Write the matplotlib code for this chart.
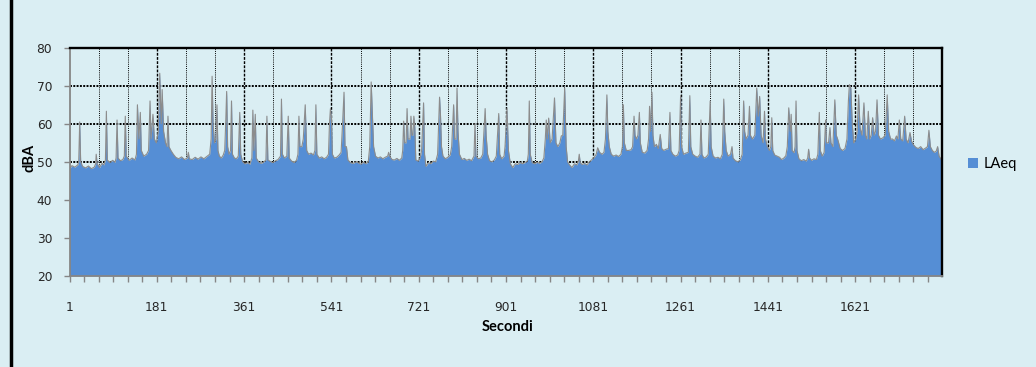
import matplotlib
matplotlib.use("Agg")
import matplotlib.pyplot as plt
from matplotlib.lines import Line2D
from matplotlib.patches import Patch

secondi = [
    1, 6, 12, 18, 20, 22, 24, 28, 34, 40,
    46, 52, 55, 56, 58, 63, 68, 72, 75, 77,
    79, 84, 90, 95, 97, 99, 101, 106, 111, 114,
    116, 118, 124, 130, 136, 139, 141, 144, 147, 149,
    154, 160, 164, 167, 169, 173, 176, 180, 184, 187,
    190, 192, 195, 199, 202, 204, 206, 210, 215, 220,
    226, 232, 238, 244, 246, 248, 254, 260, 266, 272,
    278, 284, 290, 293, 295, 297, 300, 303, 305, 307,
    310, 314, 318, 321, 323, 325, 327, 330, 333, 335,
    337, 341, 345, 349, 352, 354, 358, 363, 368, 373,
    377, 379, 381, 384, 386, 391, 396, 401, 406, 408,
    410, 415, 420, 426, 431, 436, 438, 440, 444, 449,
    452, 454, 459, 464, 469, 472, 474, 476, 480, 483,
    487, 490, 494, 499, 504, 507, 509, 511, 516, 521,
    526, 531, 535, 537, 539, 541, 543, 547, 552, 557,
    561, 564, 567, 569, 572, 575, 580, 586, 592, 597,
    602, 607, 612, 617, 620, 623, 625, 628, 632, 637,
    642, 647, 652, 657, 659, 661, 666, 671, 676, 681,
    686, 688, 690, 692, 695, 697, 699, 703, 705, 707,
    709, 711, 713, 715, 720, 724, 727, 731, 733, 736,
    741, 746, 751, 756, 760, 764, 766, 768, 771, 776,
    781, 786, 789, 793, 795, 798, 800, 802, 805, 810,
    815, 820, 825, 830, 835, 837, 839, 844, 849, 853,
    858, 860, 863, 867, 872, 877, 881, 886, 888, 892,
    897, 899, 903, 906, 910, 915, 920, 925, 930, 935,
    940, 945, 947, 949, 951, 955, 960, 965, 970, 975,
    979, 982, 984, 986, 989, 992, 996, 1001, 1004, 1008,
    1012, 1015, 1018, 1022, 1025, 1028, 1032, 1037, 1042, 1047,
    1050, 1052, 1054, 1058, 1063, 1068, 1073, 1078, 1083, 1087,
    1090, 1094, 1099, 1103, 1106, 1109, 1111, 1114, 1118, 1123,
    1128, 1133, 1138, 1141, 1143, 1145, 1149, 1154, 1159, 1162,
    1165, 1167, 1170, 1173, 1176, 1178, 1182, 1187, 1192, 1195,
    1197, 1199, 1202, 1204, 1207, 1211, 1215, 1219, 1222, 1226,
    1231, 1236, 1239, 1241, 1245, 1250, 1255, 1258, 1261, 1263,
    1267, 1272, 1277, 1280, 1282, 1286, 1291, 1296, 1301, 1303,
    1305, 1309, 1314, 1318, 1322, 1324, 1328, 1333, 1338, 1343,
    1347, 1350, 1352, 1355, 1359, 1364, 1367, 1369, 1374, 1379,
    1384, 1388, 1391, 1393, 1396, 1400, 1403, 1405, 1409, 1414,
    1418, 1421, 1424, 1427, 1431, 1434, 1436, 1440, 1444, 1447,
    1449, 1451, 1455, 1460, 1465, 1469, 1474, 1478, 1481, 1484,
    1487, 1489, 1491, 1495, 1497, 1499, 1501, 1505, 1510, 1515,
    1520, 1523, 1525, 1527, 1531, 1536, 1541, 1544, 1547, 1549,
    1553, 1557, 1560, 1562, 1566, 1569, 1571, 1575, 1579, 1582,
    1585, 1590, 1595, 1600, 1604, 1607, 1609, 1612, 1615, 1618,
    1622, 1625, 1628, 1631, 1635, 1639, 1642, 1645, 1648, 1651,
    1654, 1657, 1660, 1663, 1666, 1669, 1673, 1678, 1683, 1687,
    1690, 1694, 1698, 1702, 1706, 1709, 1712, 1715, 1719, 1723,
    1726, 1730, 1734, 1737, 1741, 1746, 1751, 1756, 1761, 1766,
    1770, 1773, 1776, 1780, 1784, 1788, 1791, 1794, 1799,
]
laeq = [
    48.2, 49.0, 48.6, 49.2, 50.0, 60.5, 50.0, 48.8, 48.4, 48.9,
    48.2, 48.6, 49.5, 52.0, 49.5, 48.5, 49.6, 49.2, 50.5, 63.3,
    50.5, 49.8, 50.4, 49.9, 51.0, 61.0, 51.0, 50.3, 50.6, 51.5,
    62.0, 51.5, 50.4, 51.0, 50.5, 52.0, 65.0, 56.0, 63.0, 53.0,
    51.5, 52.0, 53.0, 66.0, 56.0, 62.5, 56.0, 55.0, 58.0, 73.3,
    60.0, 69.0, 58.0, 55.0, 54.0, 62.0, 54.0, 53.0, 52.0, 51.2,
    50.8, 51.3, 50.6, 51.0, 52.5, 50.8, 50.6, 51.2, 50.7, 51.3,
    50.8, 51.4, 52.0, 56.0, 72.5, 60.0, 55.0, 56.0, 65.0, 53.0,
    51.5, 51.0, 51.8, 53.0, 60.0, 68.5, 54.0, 52.0, 53.0, 66.0,
    52.0, 51.0, 50.8, 51.5, 63.0, 52.0, 50.0, 49.5, 49.8, 49.4,
    51.0, 63.6, 53.0, 62.5, 51.0, 50.0, 49.6, 49.9, 50.5, 62.0,
    50.5, 50.1, 49.8, 50.3, 50.6, 51.5, 66.5, 52.0, 51.0, 51.5,
    62.0, 51.0, 50.2, 49.8, 50.4, 52.0, 62.0, 54.0, 54.0, 56.0,
    65.0, 53.0, 52.0, 52.3, 51.8, 53.0, 65.0, 52.0, 51.0, 51.3,
    50.8, 51.2, 52.0, 60.0, 64.0, 62.0, 52.0, 51.0, 51.2, 51.8,
    52.5, 60.0, 68.3, 54.0, 54.0, 50.5, 49.8, 49.6, 50.0, 49.7,
    49.4, 49.9, 49.5, 50.0, 54.0, 71.0, 64.0, 54.0, 51.5, 51.0,
    51.3, 50.8, 51.2, 51.5, 52.5, 51.5, 50.6, 50.5, 50.9, 50.4,
    51.0, 53.0, 60.7, 55.0, 55.0, 64.0, 56.0, 56.0, 62.0, 57.0,
    57.0, 62.0, 59.0, 50.5, 50.2, 51.0, 53.0, 65.5, 52.0, 48.8,
    49.8, 49.5, 50.2, 50.0, 52.0, 67.0, 62.0, 54.0, 51.5, 50.8,
    51.2, 51.8, 54.0, 65.0, 56.0, 56.0, 69.4, 58.0, 52.0, 50.6,
    50.9, 50.4, 50.7, 50.3, 51.5, 60.0, 51.5, 50.8, 51.0, 52.0,
    64.0, 57.0, 52.0, 50.3, 50.0, 50.5, 51.5, 62.7, 52.0, 50.8,
    51.5, 54.0, 64.0, 53.0, 49.5, 48.5, 49.5, 49.3, 49.8, 49.5,
    49.8, 50.2, 52.0, 66.0, 52.0, 49.8, 49.5, 49.9, 49.6, 50.0,
    51.0, 56.0, 61.0, 56.0, 61.5, 55.0, 56.0, 66.8, 55.0, 54.0,
    55.0, 56.8, 57.0, 69.4, 54.0, 50.0, 49.2, 48.5, 49.5, 49.2,
    50.0, 52.0, 49.8, 49.3, 49.6, 49.2, 50.0, 50.6, 51.2, 52.0,
    53.7, 52.5, 52.0, 52.5, 56.0, 67.6, 58.0, 54.0, 52.0, 51.5,
    51.8, 51.4, 52.0, 54.0, 65.0, 55.0, 53.0, 53.0, 53.2, 54.0,
    62.0, 57.0, 56.0, 57.0, 63.0, 55.0, 52.5, 52.3, 53.0, 56.0,
    64.6, 58.0, 68.3, 57.0, 54.0, 54.6, 53.5, 57.2, 53.5, 53.0,
    53.3, 53.5, 63.0, 53.0, 52.0, 51.5, 51.8, 53.0, 67.4, 54.0,
    52.0, 52.3, 52.5, 67.4, 54.0, 52.0, 51.5, 51.2, 52.0, 61.0,
    52.0, 51.0, 51.3, 52.0, 66.0, 54.0, 51.5, 51.0, 51.2, 50.8,
    52.0, 66.5, 58.0, 53.0, 51.5, 52.0, 54.0, 51.0, 50.3, 50.0,
    50.5, 52.0, 66.0, 58.0, 56.0, 57.0, 64.6, 57.0, 56.0, 57.0,
    69.4, 62.0, 67.2, 57.0, 55.0, 63.3, 56.0, 54.0, 53.0, 54.0,
    61.6, 53.0, 51.8, 51.5, 51.2, 50.6, 51.0, 51.6, 54.0, 64.2,
    58.0, 62.5, 53.0, 52.4, 54.0, 66.0, 53.0, 50.8, 50.3, 50.6,
    50.2, 51.0, 53.3, 51.0, 50.4, 50.8, 50.6, 52.0, 63.0, 53.0,
    51.5, 52.5, 61.0, 55.0, 55.0, 59.0, 55.0, 54.0, 66.3, 57.0,
    55.9, 53.5, 53.0, 53.5, 56.0, 66.0, 70.3, 69.4, 60.0, 55.0,
    56.0, 58.0, 67.6, 59.0, 57.0, 65.5, 57.0, 56.0, 63.3, 56.0,
    57.0, 61.6, 57.0, 58.0, 66.3, 57.0, 56.0, 56.3, 57.0, 67.6,
    58.0, 56.0, 56.0, 55.5, 56.8, 56.0, 61.0, 56.0, 55.5, 62.0,
    56.0, 55.0, 57.7, 55.5, 54.5, 53.8, 53.5, 54.0, 53.2, 53.6,
    54.0, 58.3, 54.0, 53.0, 52.5, 52.8, 54.0, 51.5, 50.5,
]
assert len(secondi) == len(laeq)

etichette_x = [1, 181, 361, 541, 721, 901, 1081, 1261, 1441, 1621]
griglia_princ = [181, 361, 541, 721, 901, 1081, 1261, 1441, 1621]
griglia_sec = [61, 121, 241, 301, 421, 601, 661, 781, 841, 961, 1021,
               1141, 1201, 1321, 1381, 1561, 1681, 1741]
valori_y = [20, 30, 40, 50, 60, 70, 80]

SFONDO = "#DAEEF3"
BLU = "#558ED5"
GRIGIO = "#868686"

fig = plt.figure(figsize=(10.36, 3.67), dpi=100, facecolor=SFONDO)
ax = fig.add_axes([0.0671, 0.248, 0.8417, 0.622])
ax.set_facecolor(SFONDO)

ax.fill_between(secondi, laeq, 20, color=BLU, lw=0, zorder=2)
ax.plot(secondi, laeq, color="#8C8C8C", lw=0.8, zorder=3)

for x in griglia_princ:
    ax.axvline(x, color="black", lw=1.0, ls=(0, (2, 1)), zorder=1)
for x in griglia_sec:
    ax.axvline(x, color="black", lw=0.7, ls=(0, (1, 1.2)), zorder=1)
for y in [50, 60, 70]:
    ax.axhline(y, color="black", lw=1.4, ls=(0, (1, 0.7)), zorder=1)

ax.set_xlim(1, 1799)
ax.set_ylim(20, 80)
ax.set_xticks(etichette_x)
ax.set_xticks(range(1, 1799, 30), minor=True)
ax.set_yticks(valori_y)

for lato in ["left", "bottom"]:
    ax.spines[lato].set_color(GRIGIO)
    ax.spines[lato].set_linewidth(1.3)
for lato in ["top", "right"]:
    ax.spines[lato].set_color("black")
    ax.spines[lato].set_linewidth(1.7)
for s in ax.spines.values():
    s.set_zorder(4)

ax.tick_params(axis="x", which="both", length=4, width=1, color=GRIGIO,
               pad=14, labelsize=8.8, labelcolor="#262626")
ax.tick_params(axis="y", length=4.5, width=1, color=GRIGIO,
               pad=8, labelsize=8.8, labelcolor="#262626")

fig.text(30 / 1036, 1 - 158 / 367, "dBA", rotation=90, ha="center", va="center",
         fontweight="bold", family="Lato", size=10.5, color="black")
fig.text(508 / 1036, 1 - 327 / 367, "Secondi", ha="center", va="center",
         fontweight="bold", family="Lato", size=10.5, color="black")

fig.legend(handles=[Patch(facecolor=BLU, edgecolor="none", label="LAeq")],
           loc="center left", bbox_to_anchor=(968 / 1036, 1 - 164 / 367),
           frameon=False, handlelength=0.7, handleheight=0.7, handletextpad=0.35,
           borderpad=0, borderaxespad=0, prop={"family": "Lato", "size": 10.5})

# bordo nero a sinistra del riquadro originale
fig.add_artist(Line2D([11 / 1036, 11 / 1036], [0, 1], color="black", lw=2.5,
                      transform=fig.transFigure))

fig.savefig("out.png", dpi=100, facecolor=SFONDO)
